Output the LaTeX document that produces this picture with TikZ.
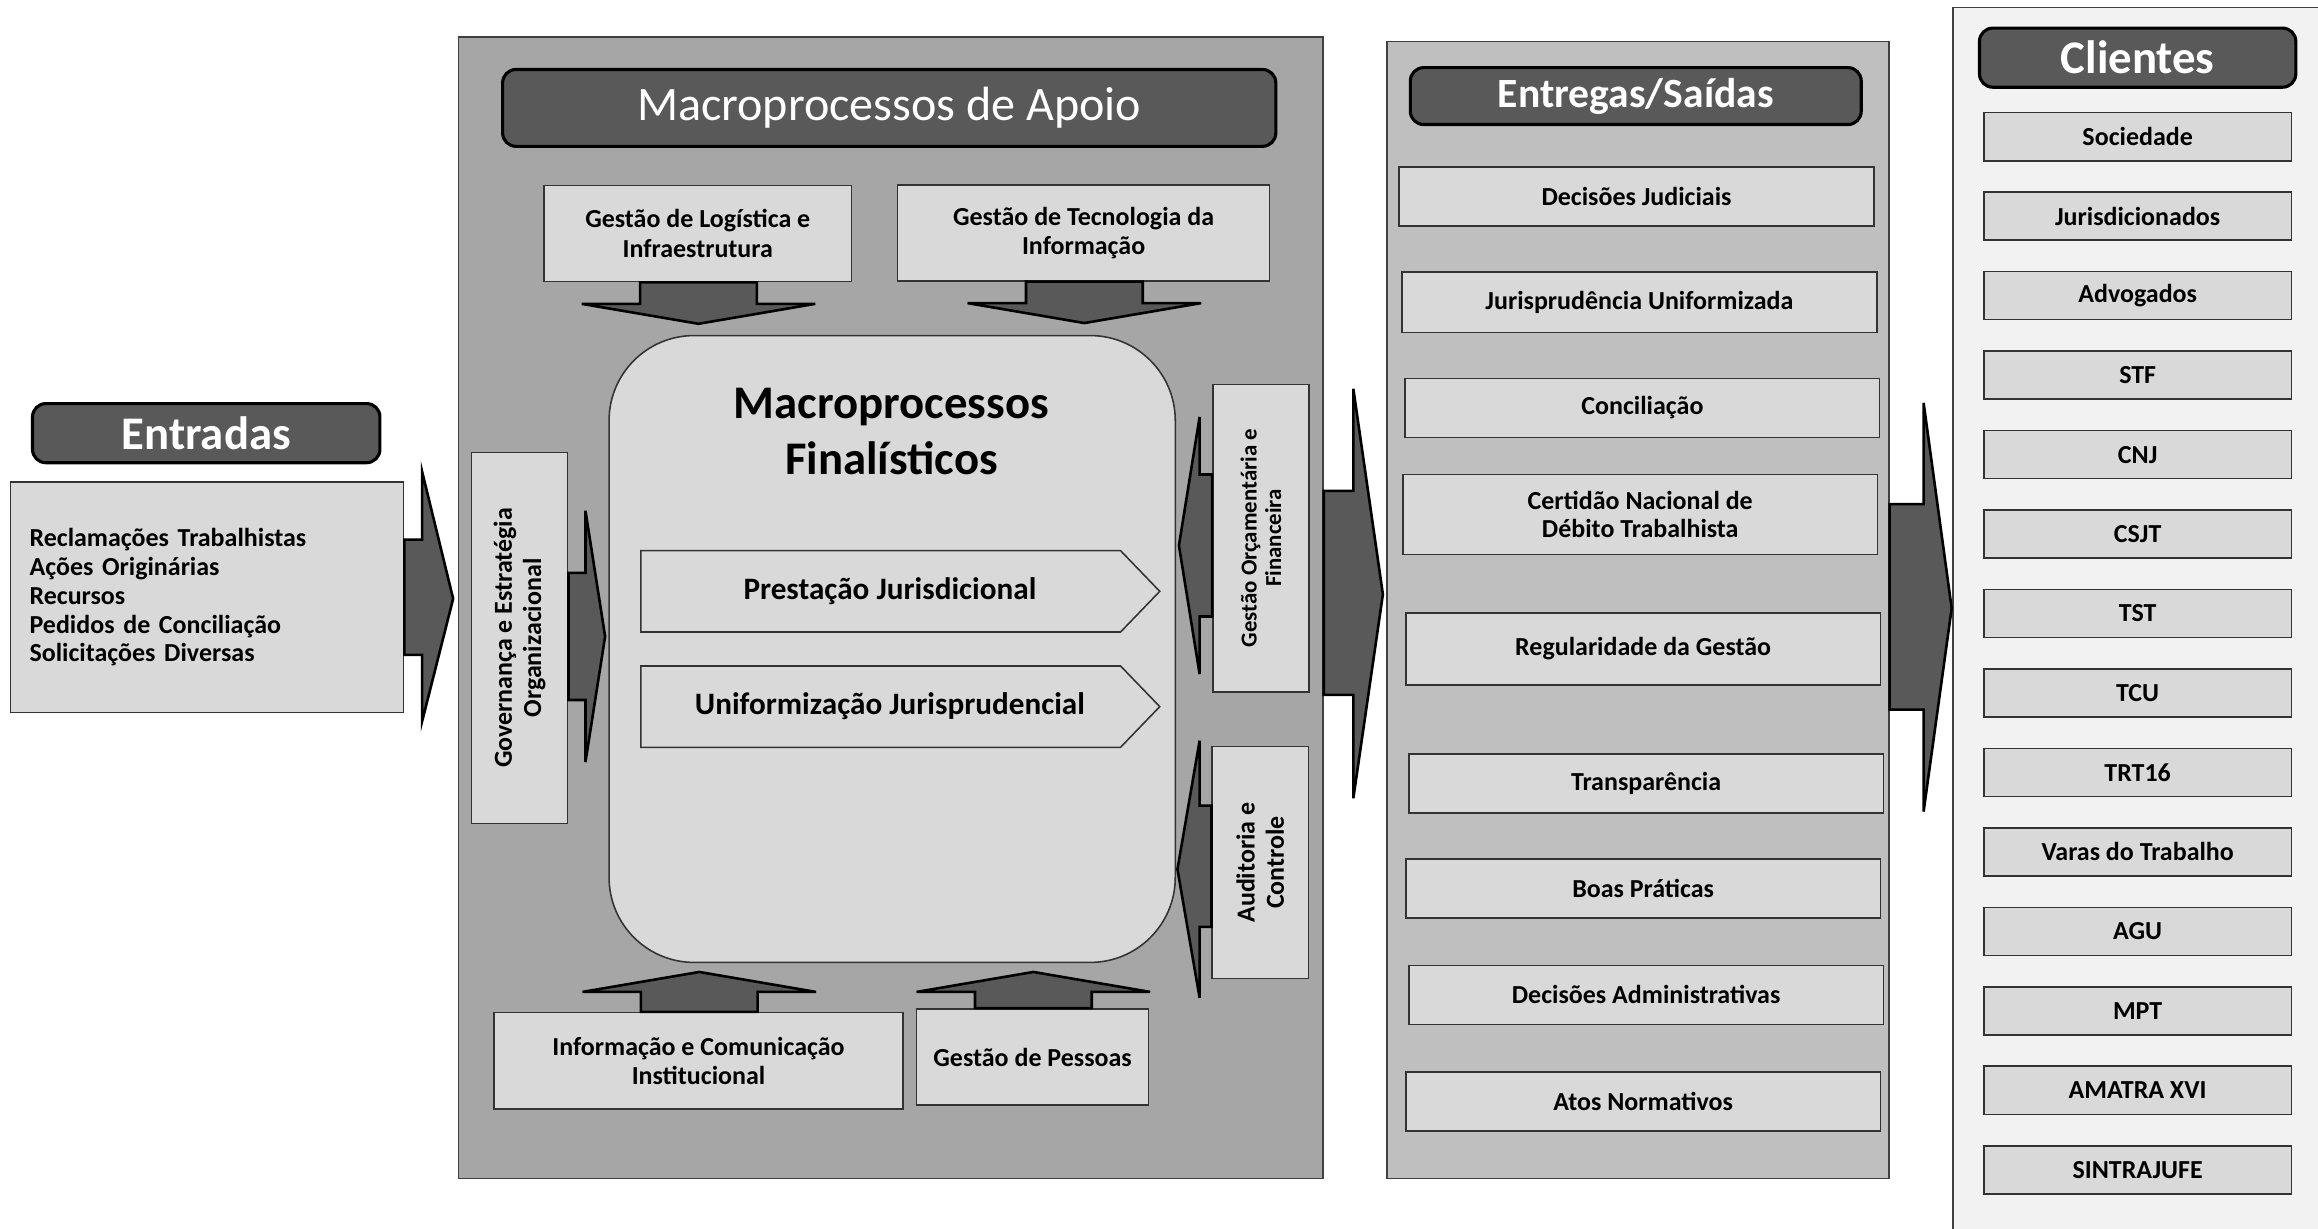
\documentclass[tikz,border=0pt]{standalone}
\usepackage{fontspec}
\setmainfont{Carlito}
\usetikzlibrary{positioning}
\tikzset{
    panel/.style={draw=black!75, line width=0.5pt}, % big background areas
    header/.style={draw=black, line width=1.2pt, fill=black!65, rounded corners=1.8mm, text=white, inner sep=0pt}, % dark titles
    box/.style={draw=black!80, line width=0.6pt, fill=black!15, inner sep=0pt, align=center, font=\bfseries\fontsize{10}{11.3}\selectfont}, % light boxes
    vbox/.style={box, rotate=90}, % boxes with vertical text
    item/.style={box, minimum width=64.2mm, minimum height=8mm}, % deliveries
    client/.style={box, minimum width=41.6mm, minimum height=6.5mm}, % clients
    blockarrow/.style={draw=black, line width=1pt, fill=black!65, line join=miter}, % thick arrows
    chevron/.style={draw=black!80, line width=0.6pt, fill=black!15},
}

\begin{document}
\begin{tikzpicture}[x=0.2mm, y=-0.2mm, node distance=10.75mm, on grid]
    \useasboundingbox (0,0) rectangle (1568,831);

    % Paineis
    \node[panel, fill=black!35, minimum width=117mm, minimum height=154.4mm] (apoio) at (602.5,411) {};
    \node[panel, fill=black!25, minimum width=67.9mm, minimum height=153.8mm] (saidas) at (1108,412.5) {};
    \node[panel, fill=black!5, minimum width=53.8mm, minimum height=168mm] (clientes) at (1455.5,425) {};

    % Entradas
    \node[header, minimum width=47mm, minimum height=8mm, font=\bfseries\fontsize{18}{20}\selectfont] (entHead) at (139.5,293) {Entradas};
    \node[box, align=left, text width=48mm, inner xsep=2.6mm, minimum height=31.2mm, font=\bfseries\fontsize{10}{11.1}\selectfont] (entBox) at (140,404)
        {Reclamações Trabalhistas\\Ações Originárias\\Recursos\\Pedidos de Conciliação\\Solicitações Diversas};

    % Macroprocessos de apoio
    \node[header, minimum width=104.6mm, minimum height=10.4mm, font=\fontsize{18.5}{21}\selectfont] (apoioHead) at (601.5,73) {Macroprocessos de Apoio};
    \node[box, minimum width=41.6mm, minimum height=13mm] (logist) at (472,158) {Gestão de Logística e\\Infraestrutura};
    \node[box, minimum width=50.3mm, minimum height=13mm] (tecno) at (733,157.5) {Gestão de Tecnologia da\\Informação};
    \node[vbox, minimum width=50.2mm, minimum height=13mm] (gov) at (351.5,431.5) {Governança e Estratégia\\Organizacional};
    \node[vbox, minimum width=41.6mm, minimum height=13mm, font=\bfseries\fontsize{8.8}{9.4}\selectfont] (orc) at (853,364) {Gestão Orçamentária e\\Financeira};
    \node[vbox, minimum width=31.4mm, minimum height=13mm] (audit) at (852.5,583.5) {Auditoria e\\Controle};
    \node[box, minimum width=55.4mm, minimum height=13mm] (info) at (472.5,717.5) {Informação e Comunicação\\Institucional};
    \node[box, minimum width=31.4mm, minimum height=13mm] (pessoas) at (698.5,715) {Gestão de Pessoas};

    % Macroprocessos finalisticos
    \node[box, rounded corners=11.5mm, minimum width=76.6mm, minimum height=84.8mm] (final) at (603.5,439) {};
    \node[font=\bfseries\fontsize{18}{21.6}\selectfont, align=center] (finTitle) at (603,292) {Macroprocessos\\Finalísticos};
    \draw[chevron] (433.5,372.5) -- (758,372.5) -- (784.5,400) -- (758,427.5) -- (433.5,427.5) -- cycle;
    \draw[chevron] (433.5,450.5) -- (758,450.5) -- (784.5,478) -- (758,505.5) -- (433.5,505.5) -- cycle;
    \node[font=\bfseries\fontsize{12}{14}\selectfont] (prest) at (602,400) {Prestação Jurisdicional};
    \node[font=\bfseries\fontsize{12}{14}\selectfont] (unif) at (602,478) {Uniformização Jurisprudencial};

    % Entregas
    \node[header, minimum width=61mm, minimum height=7.7mm, font=\bfseries\fontsize{16}{18}\selectfont] (saidasHead) at (1106.5,65) {Entregas/Saídas};
    \node[item] (decJud) at (1107,133) {Decisões Judiciais};
    \node[item, minimum height=8.2mm] (jurisp) at (1109,204.5) {Jurisprudência Uniformizada};
    \node[item] (concil) at (1111,276) {Conciliação};
    \node[item, minimum height=10.8mm, font=\bfseries\fontsize{10}{10.6}\selectfont] (certid) at (1109.5,348) {Certidão Nacional de\\Débito Trabalhista};
    \node[item, minimum height=9.7mm] (regul) at (1111.5,439) {Regularidade da Gestão};
    \node[item] (transp) at (1113.5,530) {Transparência};
    \node[item] (boas) at (1111.5,601) {Boas Práticas};
    \node[item] (decAdm) at (1113.5,673) {Decisões Administrativas};
    \node[item] (atos) at (1111.5,745) {Atos Normativos};

    % Clientes
    \node[header, minimum width=42.8mm, minimum height=8mm, font=\bfseries\fontsize{18}{20}\selectfont] (cliHead) at (1446,39) {Clientes};
    \node[client] (soc) at (1446,92.5) {Sociedade};
    \node[client] (jur) [below=of soc] {Jurisdicionados};
    \node[client] (adv) [below=of jur] {Advogados};
    \node[client] (stf) [below=of adv] {STF};
    \node[client] (cnj) [below=of stf] {CNJ};
    \node[client] (csjt) [below=of cnj] {CSJT};
    \node[client] (tst) [below=of csjt] {TST};
    \node[client] (tcu) [below=of tst] {TCU};
    \node[client] (trt) [below=of tcu] {TRT16};
    \node[client] (varas) [below=of trt] {Varas do Trabalho};
    \node[client] (agu) [below=of varas] {AGU};
    \node[client] (mpt) [below=of agu] {MPT};
    \node[client] (amatra) [below=of mpt] {AMATRA XVI};
    \node[client] (sintra) [below=of amatra] {SINTRAJUFE};

    % Setas
    \draw[blockarrow] (entBox.east) ++(0,-39) -- ++(12,0) -- ++(0,-46) -- ++(21,86) -- ++(-21,83) -- ++(0,-45) -- ++(-12,0) -- cycle;
    \draw[blockarrow] (gov.south) ++(0,-44) -- ++(11.5,0) -- ++(0,-42) -- ++(13.3,85) -- ++(-13.3,85) -- ++(0,-42) -- ++(-11.5,0) -- cycle;
    \draw[blockarrow] (orc.north) ++(0,-43) -- ++(-8.5,0) -- ++(0,-39) -- ++(-14,87) -- ++(14,87) -- ++(0,-39) -- ++(8.5,0) -- cycle;
    \draw[blockarrow] (audit.north) ++(0,-38.5) -- ++(-8,0) -- ++(0,-44) -- ++(-15,87) -- ++(15,87) -- ++(0,-48) -- ++(8,0) -- cycle;
    \draw[blockarrow] (logist.south) ++(-39,0) -- ++(0,14.5) -- ++(-39.5,0) -- ++(79,13.5) -- ++(79,-13.5) -- ++(-39.5,0) -- ++(0,-14.5) -- cycle;
    \draw[blockarrow] (tecno.south) ++(-39,0) -- ++(0,14.5) -- ++(-39.5,0) -- ++(79,13.5) -- ++(79,-13.5) -- ++(-39.5,0) -- ++(0,-14.5) -- cycle;
    \draw[blockarrow] (info.north) ++(-39,0) -- ++(0,-13.5) -- ++(-39.5,0) -- ++(79,-13.5) -- ++(79,13.5) -- ++(-39.5,0) -- ++(0,13.5) -- cycle;
    \draw[blockarrow] (pessoas.north) ++(-39,0) -- ++(0,-11) -- ++(-39.5,0) -- ++(79,-13.5) -- ++(79,13.5) -- ++(-39.5,0) -- ++(0,11) -- cycle;
    \draw[blockarrow] (apoio.east) ++(0,-79) -- ++(20,0) -- ++(0,-69) -- ++(20,139) -- ++(-20,138) -- ++(0,-70) -- ++(-20,0) -- cycle;
    \draw[blockarrow] (saidas.east) ++(0,-71.5) -- ++(23,0) -- ++(0,-68.5) -- ++(19,139) -- ++(-19,137.5) -- ++(0,-69) -- ++(-23,0) -- cycle;
\end{tikzpicture}
\end{document}
